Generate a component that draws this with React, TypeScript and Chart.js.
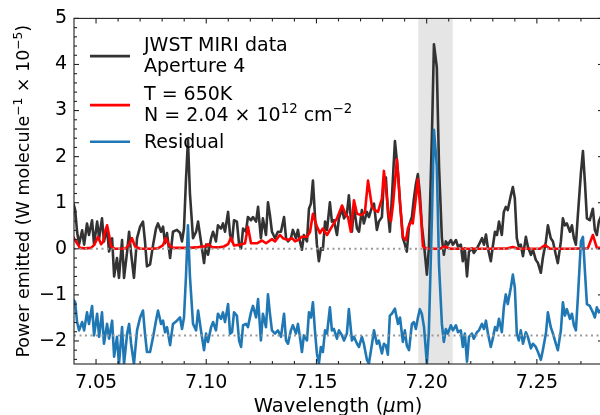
import React, { useEffect, useRef } from "react";
import { Chart, registerables } from "chart.js";

Chart.register(...registerables);

// ---------- data ----------
const wavelength = [
  7.0396, 7.0405, 7.0414, 7.0423, 7.0437, 7.0446, 7.0459, 7.0468, 7.0482, 7.0491,
  7.0505, 7.0514, 7.0527, 7.0536, 7.0550, 7.0559, 7.0573, 7.0582, 7.0595, 7.0604,
  7.0618, 7.0627, 7.0641, 7.0650, 7.0659, 7.0672, 7.0686, 7.0700, 7.0713, 7.0722,
  7.0731, 7.0745, 7.0759, 7.0772, 7.0781, 7.0795, 7.0804, 7.0813, 7.0822, 7.0836,
  7.0849, 7.0867, 7.0881, 7.0890, 7.0899, 7.0908, 7.0917, 7.0926, 7.0940, 7.0954,
  7.0963, 7.0976, 7.0990, 7.0999, 7.1008, 7.1022, 7.1031, 7.1044, 7.1053, 7.1067,
  7.1076, 7.1085, 7.1099, 7.1108, 7.1117, 7.1126, 7.1139, 7.1149, 7.1158, 7.1167,
  7.1180, 7.1189, 7.1203, 7.1212, 7.1226, 7.1235, 7.1248, 7.1257, 7.1271, 7.1280,
  7.1289, 7.1298, 7.1312, 7.1325, 7.1339, 7.1353, 7.1362, 7.1371, 7.1384, 7.1393,
  7.1407, 7.1416, 7.1425, 7.1434, 7.1443, 7.1457, 7.1466, 7.1475, 7.1484, 7.1493,
  7.1502, 7.1511, 7.1520, 7.1529, 7.1539, 7.1548, 7.1561, 7.1570, 7.1579, 7.1593,
  7.1602, 7.1616, 7.1625, 7.1638, 7.1647, 7.1661, 7.1670, 7.1684, 7.1693, 7.1706,
  7.1715, 7.1729, 7.1738, 7.1752, 7.1761, 7.1774, 7.1783, 7.1797, 7.1806, 7.1815,
  7.1824, 7.1833, 7.1842, 7.1856, 7.1870, 7.1879, 7.1892, 7.1901, 7.1910, 7.1920,
  7.1933, 7.1942, 7.1951, 7.1960, 7.1969, 7.1978, 7.1988, 7.2001, 7.2010, 7.2024,
  7.2033, 7.2046, 7.2056, 7.2069, 7.2078, 7.2087, 7.2096, 7.2110, 7.2119, 7.2133,
  7.2142, 7.2155, 7.2164, 7.2173, 7.2183, 7.2192, 7.2205, 7.2214, 7.2228, 7.2237,
  7.2251, 7.2260, 7.2269, 7.2278, 7.2291, 7.2300, 7.2310, 7.2319, 7.2328, 7.2341,
  7.2350, 7.2359, 7.2368, 7.2382, 7.2391, 7.2400, 7.2409, 7.2418, 7.2427, 7.2437,
  7.2450, 7.2459, 7.2473, 7.2482, 7.2495, 7.2505, 7.2518, 7.2527, 7.2541, 7.2550,
  7.2563, 7.2573, 7.2586, 7.2595, 7.2609, 7.2618, 7.2627, 7.2636, 7.2650, 7.2659,
  7.2668, 7.2677, 7.2686, 7.2700, 7.2709, 7.2718, 7.2727, 7.2740, 7.2754, 7.2763,
  7.2772, 7.2781, 7.2795,
];

const observed = [
  1.0, 0.85, 0.37, 0.1, 0.4, 0.09, 0.55, 0.3, 0.62, 0.09,
  0.59, 0.23, 0.66, 0.16, 0.44, -0.06, 0.23, -0.6, -0.2, -0.63,
  0.19, -0.63, -0.06, 0.37, -0.1, -0.63, 0.23, 0.48, 0.59, 0.16,
  -0.38, -0.34, 0.09, 0.44, 0.55, 0.37, 0.48, 0.12, 0.34, -0.2,
  0.37, 0.41, 0.35, 0.16, 0.44, 1.5, 2.36, 1.2, 0.23, 0.37,
  0.59, 0.16, -0.31, 0.09, -0.13, 0.23, 0.37, 0.16, 0.51, 0.44,
  0.55, 0.37, 0.8, 0.3, 0.16, 0.62, 0.59, 0.09, 0.01, 0.44,
  0.37, 0.69, 0.62, 0.69, 0.59, 0.91, 0.23, 0.66, 0.3, 1.01,
  0.73, 0.37, 0.23, 0.37, 0.37, 0.69, 0.23, 0.16, 0.23, 0.41,
  0.23, 0.41, 0.16, -0.02, 0.3, 0.16, 0.87, 0.98, 1.48, 0.73,
  0.09, -0.27, 0.01, -0.02, 0.59, 0.41, 1.01, 0.59, 0.62, 0.3,
  0.66, 0.87, 0.66, 0.76, 1.16, 0.37, 0.91, 0.44, 0.37, 0.84,
  0.55, 0.8, 0.69, 0.91, 0.98, 0.41, 0.59, 0.69, 1.51, 1.55,
  0.8, 0.37, 1.09, 2.34, 1.66, 1.0, 0.23, 0.1, -0.06, 0.51,
  0.69, 1.09, 1.4, 1.62, 1.2, 0.51, 0.09, -0.56, 0.01, 2.5,
  4.44, 3.94, 1.8, 0.23, -0.13, 0.16, 0.09, 0.19, 0.09, 0.19,
  0.05, 0.09, -0.27, 0.01, -0.6, -0.06, 0.01, -0.09, 0.01, 0.09,
  0.23, 0.09, 0.31, 0.01, -0.27, 0.05, 0.37, 0.3, 0.59, 0.3,
  0.8, 0.91, 0.84, 1.16, 1.34, 1.09, 0.23, 0.05, 0.09, -0.16,
  0.26, 0.05, -0.13, -0.02, -0.24, -0.31, -0.52, -0.2, 0.16, 0.51,
  0.23, 0.16, -0.13, -0.31, 0.16, 0.66, 0.51, 0.55, 0.37, 0.51,
  0.23, 0.09, 0.73, 1.66, 2.12, 1.44, 0.66, 0.62, 0.87, 0.41,
  0.3, 0.59, 0.75,
];

const residual = [
  -1.1, -1.15, -1.59, -1.77, -1.59, -1.77, -1.38, -1.63, -1.24, -1.88,
  -1.41, -1.91, -1.38, -2.06, -1.63, -1.95, -1.56, -2.34, -1.91, -2.5,
  -1.7, -2.5, -1.84, -1.63, -2.06, -2.5, -1.77, -1.49, -1.34, -1.84,
  -2.24, -2.24, -1.91, -1.56, -1.34, -1.63, -1.56, -1.81, -1.7, -2.09,
  -1.63, -1.56, -1.49, -1.74, -1.49, -0.6, 0.51, -0.6, -1.63, -1.77,
  -1.34, -1.77, -2.2, -1.84, -2.02, -1.7, -1.59, -1.77, -1.41, -1.52,
  -1.38, -1.59, -1.2, -1.84, -1.81, -1.38, -1.45, -1.99, -2.13, -1.66,
  -1.63, -1.7, -1.38, -1.24, -1.49, -1.09, -1.99, -1.41, -1.7, -0.99,
  -1.41, -1.77, -1.84, -1.77, -1.91, -1.41, -1.99, -2.06, -1.77, -1.66,
  -1.84, -1.63, -1.91, -2.24, -1.88, -1.99, -1.38, -1.49, -1.16, -1.77,
  -2.27, -2.49, -2.13, -2.24, -1.77, -1.84, -1.27, -1.77, -1.74, -1.95,
  -1.77, -1.88, -1.99, -1.84, -1.31, -1.99, -1.91, -2.06, -2.13, -1.91,
  -2.06, -2.41, -2.49, -2.06, -1.77, -2.06, -1.99, -2.27, -2.06, -2.1,
  -2.3, -1.45, -1.41, -1.3, -1.63, -1.49, -2.02, -1.77, -2.1, -2.2,
  -1.63, -1.59, -1.74, -1.5, -1.31, -1.41, -1.7, -2.49, -1.8, 0.73,
  2.58, 1.8, -0.34, -1.63, -2.02, -1.74, -1.84, -1.66, -1.77, -1.66,
  -1.81, -1.77, -2.13, -1.84, -2.45, -1.91, -1.84, -1.95, -1.81, -1.77,
  -1.63, -1.74, -1.56, -1.84, -2.13, -1.95, -1.7, -1.77, -1.52, -1.81,
  -1.27, -0.99, -1.2, -0.84, -0.56, -0.84, -1.84, -1.99, -1.77, -2.06,
  -1.81, -1.91, -2.16, -2.06, -2.13, -2.24, -2.41, -2.2, -1.84, -1.38,
  -1.7, -1.84, -2.06, -2.2, -1.77, -1.16, -1.45, -1.31, -1.52, -1.41,
  -1.66, -1.77, -1.06, 0.16, 0.26, -0.49, -1.2, -1.24, -1.38, -1.49,
  -1.27, -1.38, -1.3,
];

const modelWavelength = [
  7.0396, 7.0414, 7.0427, 7.0450, 7.0477, 7.0491, 7.0509, 7.0523, 7.0532, 7.0541,
  7.0550, 7.0559, 7.0568, 7.0586, 7.0609, 7.0636, 7.0650, 7.0663, 7.0677, 7.0700,
  7.0745, 7.0781, 7.0804, 7.0817, 7.0831, 7.0849, 7.0881, 7.0917, 7.0954, 7.0981,
  7.0995, 7.1008, 7.1026, 7.1053, 7.1080, 7.1099, 7.1112, 7.1126, 7.1153, 7.1176,
  7.1189, 7.1203, 7.1230, 7.1253, 7.1271, 7.1298, 7.1312, 7.1334, 7.1348, 7.1371,
  7.1389, 7.1403, 7.1416, 7.1434, 7.1457, 7.1471, 7.1484, 7.1502, 7.1516, 7.1529,
  7.1548, 7.1570, 7.1593, 7.1616, 7.1634, 7.1643, 7.1656, 7.1670, 7.1684, 7.1706,
  7.1720, 7.1734, 7.1752, 7.1765, 7.1779, 7.1797, 7.1806, 7.1820, 7.1829, 7.1838,
  7.1847, 7.1865, 7.1879, 7.1892, 7.1906, 7.1915, 7.1929, 7.1937, 7.1951, 7.1960,
  7.1974, 7.1983, 7.2001, 7.2060, 7.2083, 7.2106, 7.2196, 7.2287, 7.2368, 7.2391,
  7.2414, 7.2514, 7.2537, 7.2559, 7.2650, 7.2731, 7.2754, 7.2772, 7.2795,
];

const model = [
  0.26, 0.12, 0.02, 0.01, 0.02, 0.08, 0.26, 0.1, 0.15, 0.38,
  0.51, 0.3, 0.05, 0.0, 0.0, 0.01, 0.1, 0.23, 0.05, 0.0,
  0.0, 0.01, 0.08, 0.23, 0.08, 0.02, 0.02, 0.02, 0.03, 0.05,
  0.05, 0.1, 0.04, 0.03, 0.05, 0.1, 0.24, 0.07, 0.09, 0.12,
  0.48, 0.12, 0.12, 0.18, 0.12, 0.21, 0.16, 0.3, 0.23, 0.19,
  0.23, 0.16, 0.19, 0.26, 0.26, 0.37, 0.76, 0.48, 0.34, 0.44,
  0.3, 0.48, 0.66, 0.94, 0.73, 0.69, 0.37, 1.05, 0.76, 0.73,
  0.8, 1.48, 0.91, 0.84, 0.8, 1.09, 1.69, 1.09, 0.69, 0.6,
  0.95, 1.94, 1.01, 0.26, 0.19, 0.44, 0.59, 0.55, 1.1, 1.51,
  0.73, 0.05, 0.0, 0.0, 0.05, 0.0, 0.0, 0.0, 0.01, 0.04,
  0.0, 0.0, 0.08, 0.0, 0.0, 0.01, 0.3, 0.02, 0.02,
];

const xRange = [7.04, 7.28];
const yRange = [-2.5, 5];
const xTicks = [7.05, 7.1, 7.15, 7.2, 7.25];
const yTicks = [-2, -1, 0, 1, 2, 3, 4, 5];
const bandRange = [7.1962, 7.2118];
const zeroLevel = 0;
const residualOffset = -1.88;

type Seg = { t: string; k?: "sup" | "it" };

// legend rows: each row = lines, each line = text segments
const legendRows: Seg[][][] = [
  [[{ t: "JWST MIRI data" }], [{ t: "Aperture 4" }]],
  [
    [{ t: "T = 650K" }],
    [{ t: "N = 2.04 \u00d7 10" }, { t: "12", k: "sup" }, { t: " cm" }, { t: "\u22122", k: "sup" }],
  ],
  [[{ t: "Residual" }]],
];
const seriesColors = ["#333333", "#ff0000", "#1f77b4"];
const xTitle: Seg[] = [{ t: "Wavelength (" }, { t: "\u03bc", k: "it" }, { t: "m)" }];
const yTitle: Seg[] = [
  { t: "Power emitted (W molecule" },
  { t: "\u22121", k: "sup" },
  { t: " \u00d7 10" },
  { t: "\u22125", k: "sup" },
  { t: ")" },
];

// ---------- styling ----------
const FONT = "'DejaVu Sans', sans-serif";
const FRAME = "#222222";

function drawRich(ctx: CanvasRenderingContext2D, segs: Seg[], x: number, y: number, size: number, align: "left" | "center") {
  const fontFor = (k?: string) =>
    k === "sup" ? `${size * 0.7}px ${FONT}` : k === "it" ? `italic ${size}px ${FONT}` : `${size}px ${FONT}`;
  const widths = segs.map((s) => {
    ctx.font = fontFor(s.k);
    return ctx.measureText(s.t).width;
  });
  const total = widths.reduce((a, b) => a + b, 0);
  let cx = align === "center" ? x - total / 2 : x;
  ctx.textAlign = "left";
  ctx.textBaseline = "alphabetic";
  segs.forEach((s, i) => {
    ctx.font = fontFor(s.k);
    ctx.fillText(s.t, cx, s.k === "sup" ? y - size * 0.42 : y);
    cx += widths[i];
  });
}

const bandPlugin = {
  id: "band",
  beforeDatasetsDraw(chart: any) {
    const { ctx, chartArea: a, scales } = chart;
    const x0 = scales.x.getPixelForValue(bandRange[0]);
    const x1 = scales.x.getPixelForValue(bandRange[1]);
    ctx.save();
    ctx.fillStyle = "#e5e5e5";
    ctx.fillRect(x0, a.top, x1 - x0, a.bottom - a.top);
    ctx.restore();
  },
};

const framePlugin = {
  id: "frame",
  afterDatasetsDraw(chart: any) {
    const { ctx, chartArea: a, scales } = chart;
    ctx.save();
    ctx.strokeStyle = FRAME;
    ctx.lineWidth = 1.1;
    ctx.strokeRect(a.left, a.top, a.right - a.left, a.bottom - a.top);
    const seg = (x0: number, y0: number, x1: number, y1: number) => {
      ctx.beginPath();
      ctx.moveTo(x0, y0);
      ctx.lineTo(x1, y1);
      ctx.stroke();
    };
    const xTick = (v: number, len: number) => {
      const p = scales.x.getPixelForValue(v);
      seg(p, a.bottom, p, a.bottom - len);
      seg(p, a.top, p, a.top + len);
    };
    const yTick = (v: number, len: number) => {
      const p = scales.y.getPixelForValue(v);
      seg(a.left, p, a.left + len, p);
      seg(a.right, p, a.right - len, p);
    };
    for (let i = 705; i <= 727; i++) {
      if (i % 5 !== 0) xTick(i / 100, 3);
    }
    for (let i = -12; i <= 24; i++) {
      if (i % 5 !== 0) yTick(i / 5, 3);
    }
    xTicks.forEach((v) => xTick(v, 5));
    yTicks.forEach((v) => yTick(v, 5));
    ctx.restore();
  },
};

const legendOffsets = [37.7, 86.7, 123.3];

const textPlugin = {
  id: "richText",
  afterDraw(chart: any) {
    const { ctx, chartArea: a } = chart;
    ctx.save();
    ctx.fillStyle = "#000";
    // legend
    legendRows.forEach((row, i) => {
      const y = a.top + legendOffsets[i];
      ctx.strokeStyle = seriesColors[i];
      ctx.lineWidth = 2.6;
      ctx.beginPath();
      ctx.moveTo(a.left + 16, y);
      ctx.lineTo(a.left + 56, y);
      ctx.stroke();
      const baselines = row.length === 2 ? [y - 5, y + 16] : [y + 6];
      row.forEach((line, j) => drawRich(ctx, line, a.left + 70, baselines[j], 19, "left"));
    });
    // x title
    drawRich(ctx, xTitle, (a.left + Math.min(a.right, 600)) / 2 + 1, 411.5, 19.5, "center");
    // y title
    ctx.save();
    ctx.translate(29, (a.top + a.bottom) / 2);
    ctx.rotate(-Math.PI / 2);
    drawRich(ctx, yTitle, 0, 0, 17.5, "center");
    ctx.restore();
    ctx.restore();
  },
};

export default function App() {
  const ref = useRef<HTMLCanvasElement>(null);

  useEffect(() => {
    if (!ref.current) return;
    const toXY = (xs: number[], ys: number[]) => xs.map((x, i) => ({ x, y: ys[i] }));
    const lineStyle = {
      pointRadius: 0,
      borderWidth: 2.6,
      tension: 0,
      borderJoinStyle: "round" as const,
      fill: false,
    };
    const chart = new Chart(ref.current, {
      type: "line",
      data: {
        datasets: [
          {
            label: "zero",
            data: toXY(xRange, [zeroLevel, zeroLevel]),
            borderColor: "#999999",
            borderWidth: 2,
            borderDash: [2, 3.5],
            pointRadius: 0,
            order: 0,
          },
          {
            label: "residual zero",
            data: toXY(xRange, [residualOffset, residualOffset]),
            borderColor: "#999999",
            borderWidth: 2,
            borderDash: [2, 3.5],
            pointRadius: 0,
            order: 0,
          },
          {
            label: "Residual",
            data: toXY(wavelength, residual),
            borderColor: seriesColors[2],
            ...lineStyle,
            order: 1,
          },
          {
            label: "Model",
            data: toXY(modelWavelength, model),
            borderColor: seriesColors[1],
            ...lineStyle,
            order: 2,
          },
          {
            label: "JWST MIRI data",
            data: toXY(wavelength, observed),
            borderColor: seriesColors[0],
            ...lineStyle,
            order: 3,
          },
        ],
      },
      options: {
        animation: false,
        responsive: false,
        devicePixelRatio: 1,
        layout: { padding: { top: 14, right: 1, left: 0, bottom: 0 } },
        plugins: {
          legend: { display: false },
          tooltip: { enabled: false },
        },
        scales: {
          x: {
            type: "linear",
            min: xRange[0],
            max: xRange[1],
            grid: { display: false, drawTicks: false },
            border: { display: false },
            afterBuildTicks: (s: any) => {
              s.ticks = xTicks.map((v) => ({ value: v }));
            },
            afterFit: (s: any) => {
              s.height = 51;
            },
            ticks: {
              autoSkip: false,
              maxRotation: 0,
              padding: 8,
              color: "#000",
              font: { family: FONT, size: 19 },
              callback: (v: any) => Number(v).toFixed(2),
            },
            title: { display: false },
          },
          y: {
            type: "linear",
            min: yRange[0],
            max: yRange[1],
            grid: { display: false, drawTicks: false },
            border: { display: false },
            afterBuildTicks: (s: any) => {
              s.ticks = yTicks.map((v) => ({ value: v }));
            },
            afterFit: (s: any) => {
              s.width = 74;
            },
            ticks: {
              autoSkip: false,
              padding: 7,
              color: "#000",
              font: { family: FONT, size: 19 },
              callback: (v: any) => (Number(v) < 0 ? "\u2212" + Math.abs(Number(v)) : String(v)),
            },
            title: { display: false },
          },
        },
      },
      plugins: [bandPlugin, framePlugin, textPlugin],
    } as any);
    return () => chart.destroy();
  }, []);

  return (
    <div
      style={{
        position: "absolute",
        left: 0,
        top: 0,
        width: 600,
        height: 415,
        overflow: "hidden",
        background: "#fff",
      }}
    >
      <canvas ref={ref} width={604} height={415} style={{ display: "block", width: 604, height: 415 }} />
    </div>
  );
}
